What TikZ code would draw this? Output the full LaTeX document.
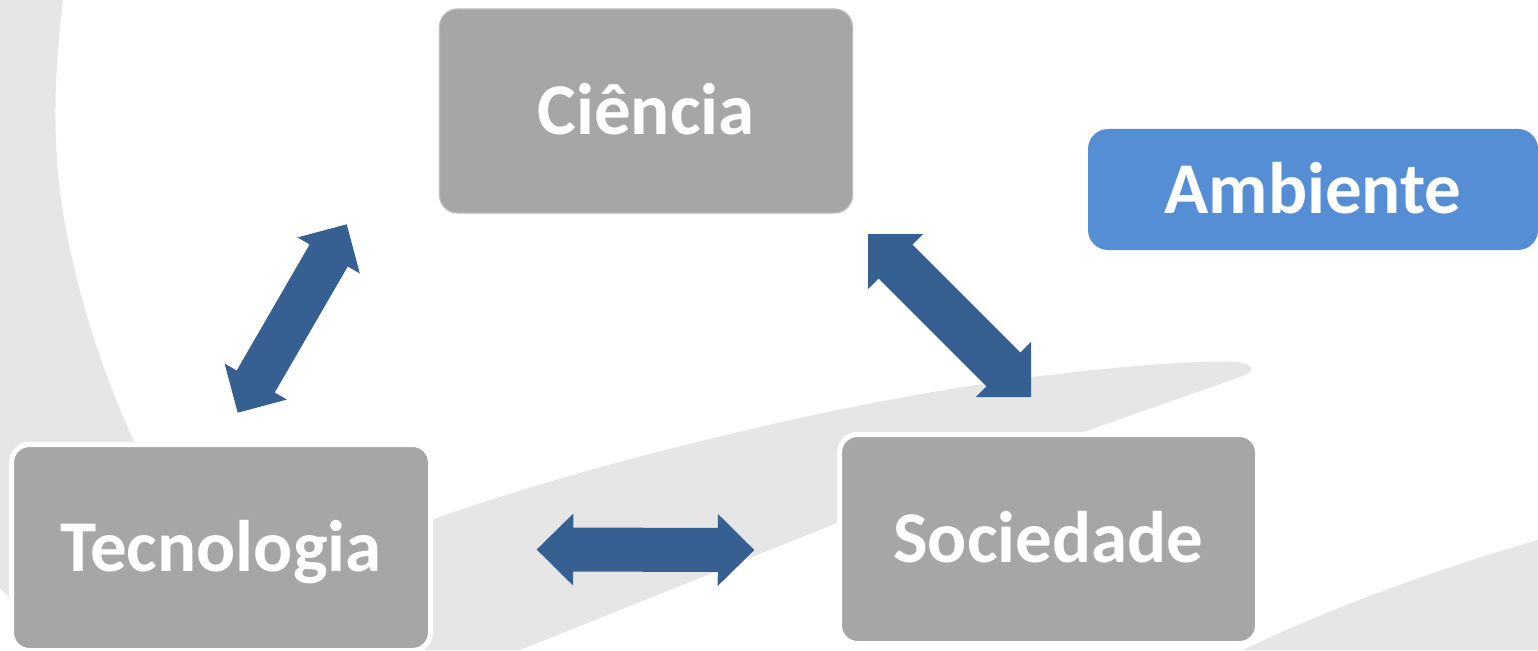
\documentclass[tikz,border=0pt]{standalone}
\usepackage{fontspec}
\setmainfont{Carlito}
\usetikzlibrary{calc}
\definecolor{bggray}{HTML}{E6E6E6}
\definecolor{boxgray}{HTML}{A6A6A6}
\definecolor{boxedge}{HTML}{BDBDBD}
\definecolor{arrowblue}{HTML}{366092}
\definecolor{envblue}{HTML}{558ED5}
\tikzset{
  topic/.style={rounded corners=18pt, fill=boxgray, text=white,
    font=\fontsize{73}{80}\selectfont\bfseries, inner sep=0pt,
    text height=47pt, text depth=0pt},
  haloed/.style={topic, draw=white, line width=5pt},
  edged/.style={topic, draw=boxedge, line width=1.2pt},
  envbox/.style={topic, fill=envblue, rounded corners=20pt},
  blockarrow/.style={fill=arrowblue}
}
% #1 tip A, #2 tip B, #3 half shaft width, #4 half head width, #5 head length
\newcommand\blockarr[5]{%
  \path coordinate (ha) at ($(#1)!#5!(#2)$) coordinate (hb) at ($(#2)!#5!(#1)$);
  \fill[blockarrow] (#1) -- ($(ha)!#4!90:(#2)$) -- ($(ha)!#3!90:(#2)$)
    -- ($(hb)!#3!-90:(#1)$) -- ($(hb)!#4!-90:(#1)$) -- (#2)
    -- ($(hb)!#4!90:(#1)$) -- ($(hb)!#3!90:(#1)$)
    -- ($(ha)!#3!-90:(#2)$) -- ($(ha)!#4!-90:(#2)$) -- cycle;
}
\begin{document}
\begin{tikzpicture}[x=1pt,y=-1pt]
\useasboundingbox (0,0) rectangle (1538,650);
\begin{scope}
\clip (0,0) rectangle (1538,650);
\fill[white] (0,0) rectangle (1538,650);
% background swooshes
\fill[bggray] (0,0) -- (63,0) .. controls (52,90) and (52,170) .. (70,249)
  .. controls (85,320) and (110,390) .. (136,446) -- (60,520) -- (12,600) -- (0,588) -- cycle;
\fill[bggray] (425,522) .. controls (600,460) and (850,400) .. (1033,377)
  .. controls (1120,366) and (1200,360) .. (1235,362)
  .. controls (1256,364) and (1256,372) .. (1240,377)
  -- (1083,432) -- (837,523) -- (520,650) -- (425,650) -- cycle;
\fill[bggray] (1243,650) .. controls (1330,608) and (1440,568) .. (1538,540) -- (1538,650) -- cycle;

% boxes
\node[edged, minimum width=413pt, minimum height=204pt] (ciencia) at (646,111) {Ciência};
\node[envbox, minimum width=450pt, minimum height=121pt] (ambiente) at (1313,189.5) {Ambiente};
\node[haloed, minimum width=419pt, minimum height=206pt] (tecnologia) at (221,547.5) {Tecnologia};
\node[haloed, minimum width=418pt, minimum height=209pt] (sociedade) at (1048.5,539) {Sociedade};

% arrow end points
\coordinate (ct1) at (346.7,224.3);
\coordinate (ct2) at (237.7,412.7);
\coordinate (cs1) at (868,234);
\coordinate (cs2) at (1031,397);
\coordinate (ts1) at (536.7,549.5);
\coordinate (ts2) at (754.3,550);
\blockarr{ct1}{ct2}{22pt}{36pt}{36pt}
\blockarr{cs1}{cs2}{24pt}{39pt}{39pt}
\blockarr{ts1}{ts2}{22pt}{36pt}{36.5pt}
\end{scope}
\end{tikzpicture}
\end{document}
